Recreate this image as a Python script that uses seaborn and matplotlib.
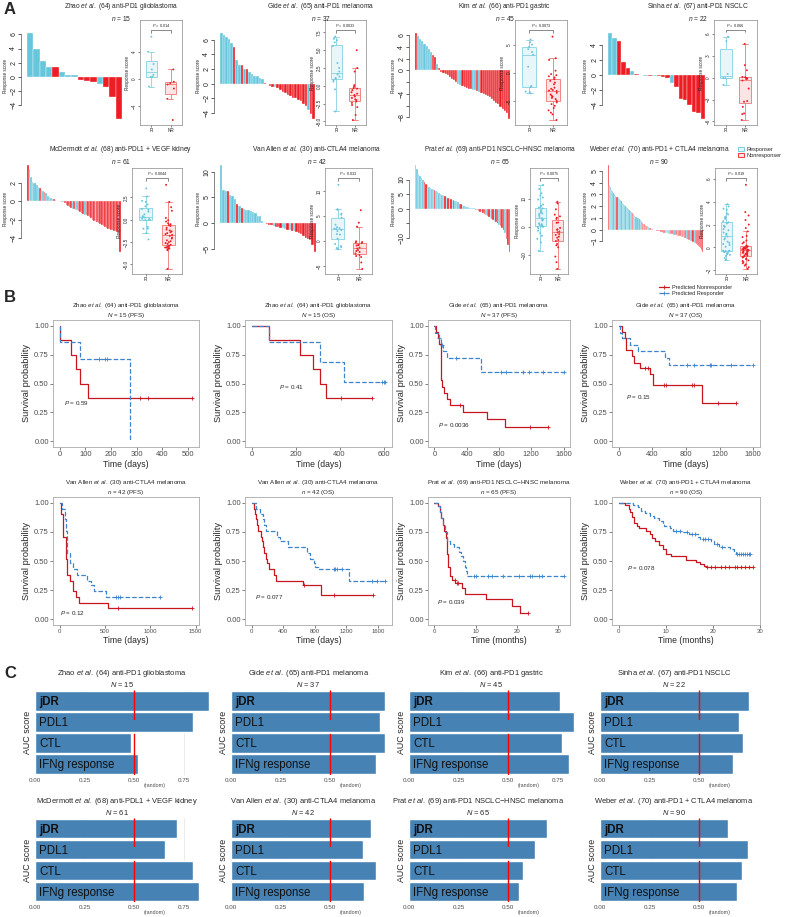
import numpy as np
import pandas as pd
import matplotlib
matplotlib.use("Agg")
import matplotlib.pyplot as plt
import matplotlib.colors as mcolors
from matplotlib.patches import Patch
from matplotlib.lines import Line2D
import seaborn as sns

sns.set_theme(style="white")
plt.rcParams["font.family"] = ["Liberation Sans", "DejaVu Sans"]
plt.rcParams["mathtext.fontset"] = "custom"
plt.rcParams["mathtext.rm"] = "Liberation Sans"
plt.rcParams["mathtext.it"] = "Liberation Sans:italic"
plt.rcParams["mathtext.bf"] = "Liberation Sans:bold"

# ---------------- data ----------------
study = ["Zhao", "Gide", "Kim", "Sinha", "McDermott", "Van Allen", "Prat", "Weber"]
ref = ["64", "65", "66", "67", "68", "30", "69", "70"]
therapy = ["anti-PD1 glioblastoma", "anti-PD1 melanoma", "anti-PD1 gastric", "anti-PD1 NSCLC",
           "anti-PDL1 + VEGF kidney", "anti-CTLA4 melanoma", "anti-PD1 NSCLC\u2212HNSC melanoma",
           "anti-PD1 + CTLA4 melanoma"]

# panel A: response score per patient (sorted) and true response (R / N)
zhao_score = [6.2, 4.0, 2.2, 1.4, 1.4, 0.6, 0.3, 0.3, -0.4, -0.6, -0.8, -1.1, -1.4, -2.9, -6.0]
zhao_resp = "RRRRNRRRNNNRNNN"
gide_score = [6.9, 6.6, 6.4, 6.1, 5.6, 5.0, 3.2, 2.5, 2.5, 2.0,
              2.0, 1.6, 1.3, 1.1, 1.0, 0.8, 0.6, 0.1, -0.1, -0.3,
              -0.4, -0.5, -0.6, -0.9, -1.1, -1.3, -1.5, -1.7, -1.9, -2.0,
              -2.2, -2.4, -2.7, -3.0, -3.6, -4.1, -4.8]
gide_resp = "RRRRRNRRNR" "NRRRRRRNNN" "NRNNNNNNNN" "NNNNRNN"
kim_score = [6.4, 5.9, 5.4, 5.0, 4.6, 4.2, 3.7, 3.2, 2.6, 2.3,
             1.1, 0.4, -0.2, -0.4, -0.6, -0.8, -1.1, -1.4, -1.7, -2.0,
             -2.3, -2.5, -2.6, -2.8, -3.0, -3.1, -3.2, -3.3, -3.4, -3.5,
             -3.6, -3.8, -4.0, -4.2, -4.4, -4.6, -4.9, -5.2, -5.5, -5.8,
             -6.2, -6.6, -7.0, -7.3, -8.3]
kim_resp = "NRRRRRRRNN" "RNNNNNNNNN" "RRNNNNNRRN" "RNNNNNNNNN" "NNNNN"
sinha_score = [5.6, 5.0, 4.6, 1.7, 1.0, 0.5, 0.1, 0.05, -0.05, -0.05,
               -0.1, -0.15, -0.2, -0.4, -1.0, -1.5, -3.2, -3.3, -4.0, -4.9,
               -5.0, -5.8]
sinha_resp = "RRNNNRNNRN" "RNNNRNNNNN" "NN"
mcd_score = [3.9, 3.5, 2.6, 2.1, 2.0, 2.0, 1.7, 1.5, 1.4, 1.2,
             1.1, 1.0, 0.9, 0.6, 0.4, 0.3, 0.25, 0.2, 0.1, 0.05,
             0.02, 0.0, -0.05, -0.05, -0.2, -0.4, -0.5, -0.6, -0.7, -0.8,
             -0.9, -1.0, -1.0, -1.1, -1.2, -1.3, -1.4, -1.5, -1.5, -1.6,
             -1.7, -1.8, -2.0, -2.1, -2.2, -2.3, -2.4, -2.5, -2.6, -2.7,
             -2.8, -2.9, -3.0, -3.0, -3.1, -3.1, -3.2, -3.2, -3.3, -3.4,
             -5.5]
mcd_resp = "NRRRRNRRNR" "RNRRRRRNRR" "RRNRNNNNNR" "NRRNNNNRNN" "NNNNRNNNNN" "NNNNNNNNNN" "N"
va_score = [11.3, 6.4, 6.3, 6.2, 5.5, 5.3, 4.7, 3.7, 3.3, 2.9,
            2.8, 2.6, 2.5, 2.4, 2.2, 2.0, 1.4, 1.3, 0.5, -0.05,
            -0.2, -0.3, -0.4, -0.6, -0.7, -0.8, -0.9, -1.0, -1.2, -1.3,
            -1.4, -1.5, -1.6, -1.8, -2.0, -2.2, -2.5, -2.8, -3.0, -3.2,
            -4.3, -5.6]
va_resp = "RRRNRRRNRN" "RRRRRRRRRN" "NNNRNNNRRN" "RNRNNNNNNN" "NN"
prat_score = [15.0, 13.5, 12.0, 11.2, 10.5, 9.8, 9.0, 8.4, 8.0, 7.6,
              7.2, 6.9, 6.6, 6.3, 6.0, 5.7, 5.4, 5.1, 4.8, 4.6,
              4.4, 4.1, 3.8, 3.5, 3.3, 3.1, 2.9, 2.7, 2.5, 2.3,
              1.6, 1.5, 1.3, 1.0, 0.8, 0.6, 0.5, 0.3, 0.2, 0.1,
              0.05, -0.3, -0.5, -0.8, -1.0, -1.3, -1.6, -1.9, -2.2, -2.5,
              -2.8, -3.1, -3.4, -3.8, -4.2, -4.6, -5.0, -5.5, -6.0, -6.5,
              -7.2, -8.5, -10.5, -12.5, -14.9]
prat_resp = "RRRRRRNNRR" "RRRNRRRRRR" "NRNRNRNRRR" "NNRRRRRRRR" "RNRNNRNNRN" "NRNNRNNRNN" "NRNNN"
weber_score = [5.5, 3.8, 3.6, 3.4, 3.3, 3.1, 3.0, 2.9, 2.8, 2.7,
               2.6, 2.5, 2.4, 2.3, 2.2, 2.1, 2.0, 1.9, 1.85, 1.8,
               1.7, 1.6, 1.5, 1.4, 1.3, 1.2, 1.1, 1.0, 0.95, 0.9,
               0.8, 0.7, 0.6, 0.5, 0.45, 0.4, 0.35, 0.3, 0.2, 0.15,
               0.1, 0.05, 0.02, -0.02, -0.05, -0.08, -0.1, -0.12, -0.15, -0.18,
               -0.2, -0.22, -0.25, -0.27, -0.3, -0.3, -0.32, -0.33, -0.35, -0.36,
               -0.38, -0.4, -0.42, -0.45, -0.47, -0.5, -0.52, -0.55, -0.58, -0.6,
               -0.63, -0.66, -0.7, -0.73, -0.76, -0.8, -0.85, -0.9, -0.95, -1.0,
               -1.05, -1.1, -1.15, -1.2, -1.3, -1.4, -1.5, -1.6, -1.75, -1.9]
weber_resp = ("NRRRRNRRNR" "RRNRRRNRRR" "NRRNRRRNRN" "RRNRNRNRRN" "NRNNNNNNNN"
              "NNNNRRRRRN" "NNRNNRNNNR" "NRNNRNNNRN" "NRNNNNNNNN")

scores = [zhao_score, gide_score, kim_score, sinha_score, mcd_score, va_score, prat_score, weber_score]
resps = [zhao_resp, gide_resp, kim_resp, sinha_resp, mcd_resp, va_resp, prat_resp, weber_resp]
box_p = ["0.014", "0.0033", "0.0073", "0.066", "0.0044", "0.033", "0.0075", "0.019"]
wf_ticks = [[-4, -2, 0, 2, 4, 6], [-4, -2, 0, 2, 4, 6], [-8, -6, -4, -2, 0, 2, 4, 6], [-4, -2, 0, 2, 4],
            [-4, -2, 0, 2], [-5, 0, 5, 10], [-10, -5, 0, 5, 10], [-1, 0, 1, 2, 3, 4, 5]]
wf_labels = [["\u22124", "\u22122", "0", "2", "4", "6"], ["\u22124", "\u22122", "0", "2", "4", "6"],
             ["\u22128", "", "\u22124", "", "0", "2", "4", "6"], ["\u22124", "\u22122", "0", "2", "4"],
             ["\u22124", "\u22122", "0", "2"], ["\u22125", "0", "5", "10"],
             ["\u221210", "", "0", "5", "10"], ["\u22121", "0", "1", "2", "3", "4", "5"]]
bx_ticks = [[-4, 0, 4], [-5.0, -2.5, 0.0, 2.5, 5.0, 7.5], [-5, 0, 5], [-6, -3, 0, 3, 6],
            [-5.0, -2.5, 0.0, 2.5], [-5, 0, 5, 10], [-10, 0, 10], [-2, 0, 2, 4, 6]]

# panel B: Kaplan-Meier steps (time, survival) + censor times
km_title_n = ["N = 15 (PFS)", "N = 15 (OS)", "N = 37 (PFS)", "N = 37 (OS)",
              "n = 42 (PFS)", "n = 42 (OS)", "n = 65 (PFS)", "n = 90 (OS)"]
km_study = [0, 0, 1, 1, 5, 5, 6, 7]
km_p = ["0.59", "0.41", "0.0036", "0.15", "0.12", "0.077", "0.039", "0.078"]
km_p_pos = [(17, 0.33), (125, 0.47), (41, 0.14), (83, 0.38), (5, 0.05), (42, 0.19), (0.5, 0.15), (1.7, 0.44)]
km_unit = ["days", "days", "days", "days", "days", "days", "months", "months"]
km_xticks = [[0, 100, 200, 300, 400, 500], [0, 200, 400, 600], [0, 400, 800, 1200, 1600],
             [0, 400, 800, 1200, 1600], [0, 500, 1000, 1500], [0, 400, 800, 1200, 1600],
             [0, 10, 20, 30], [0, 10, 20, 30]]

nr_t = [[0, 2, 45, 62, 81, 109, 517],
        [0, 78, 219, 281, 309, 340, 546],
        [0, 20, 41, 54, 82, 95, 124, 160, 198, 359, 647, 878, 1402],
        [0, 42, 71, 91, 158, 187, 249, 374, 407, 989, 1392],
        [0, 19, 38, 65, 76, 114, 152, 179, 209, 532, 1464],
        [0, 30, 42, 55, 64, 76, 119, 127, 148, 161, 182, 195, 225, 288, 305, 657, 877, 1538],
        [0, 0.9, 1.3, 1.7, 2.1, 2.4, 2.8, 3.05, 3.4, 3.8, 4.35, 5.1, 6.6, 7.4, 12.4, 18.7, 20.8, 22.7],
        [0, 1.4, 2.1, 2.5, 2.9, 3.3, 3.8, 4.4, 5.7, 6.7, 7.0, 7.8, 8.6, 9.3, 10.1, 11.2, 14.2, 16.5,
         17.3, 18.2, 18.6, 28.5]]
nr_s = [[1, 0.875, 0.75, 0.625, 0.5, 0.375, 0.375],
        [1, 0.875, 0.75, 0.625, 0.5, 0.375, 0.375],
        [1, 0.95, 0.89, 0.84, 0.53, 0.47, 0.42, 0.37, 0.315, 0.25, 0.19, 0.125, 0.125],
        [1, 0.95, 0.89, 0.79, 0.74, 0.68, 0.63, 0.58, 0.49, 0.33, 0.33],
        [1, 0.90, 0.71, 0.52, 0.38, 0.33, 0.24, 0.19, 0.14, 0.095, 0.095],
        [1, 0.95, 0.90, 0.86, 0.81, 0.76, 0.71, 0.67, 0.62, 0.57, 0.52, 0.48, 0.43, 0.38, 0.33, 0.29,
         0.21, 0.21],
        [1, 0.97, 0.92, 0.87, 0.81, 0.76, 0.70, 0.56, 0.45, 0.37, 0.34, 0.31, 0.27, 0.22, 0.17, 0.11,
         0.055, 0.055],
        [1, 0.98, 0.95, 0.92, 0.88, 0.83, 0.80, 0.78, 0.76, 0.73, 0.70, 0.67, 0.64, 0.60, 0.56, 0.54,
         0.51, 0.49, 0.47, 0.46, 0.445, 0.445]]
nr_cens = [[314, 346, 517], [406, 546], [322, 1188, 1402], [312, 353, 540, 561, 873, 894, 1185, 1392],
           [646, 1464], [660, 1038, 1538], [5.0, 5.4, 5.8, 22.7],
           [18.8, 19.5, 20.5, 21.8, 22.5, 23.4, 24.6, 25.2, 26.0, 26.8, 27.6, 28.5]]
r_t = [[0, 2, 81, 273],
       [0, 78, 309, 422, 608],
       [0, 12, 54, 82, 103, 157, 577, 1600],
       [0, 12, 42, 133, 229, 549, 594, 1600],
       [0, 30, 57, 65, 76, 114, 152, 190, 304, 342, 380, 513, 1103],
       [0, 51, 106, 148, 161, 182, 318, 360, 466, 699, 742, 785, 805, 839, 1229, 1695],
       [0, 0.9, 1.3, 1.7, 2.1, 2.6, 3.05, 3.8, 4.7, 5.9, 6.4, 7.0, 7.3, 7.6, 8.0, 31.3],
       [0, 3.0, 4.0, 4.8, 5.5, 6.6, 7.4, 8.6, 9.3, 9.7, 10.8, 11.6, 13.5, 15.0, 16.9, 17.3, 19.5,
        20.3, 21.4, 23.7, 24.5, 24.8, 27.9]]
r_s = [[1, 0.857, 0.714, 0.0],
       [1, 0.857, 0.686, 0.514, 0.514],
       [1, 0.94, 0.89, 0.83, 0.78, 0.72, 0.60, 0.60],
       [1, 0.94, 0.89, 0.83, 0.78, 0.72, 0.66, 0.66],
       [1, 0.95, 0.86, 0.76, 0.57, 0.48, 0.43, 0.38, 0.33, 0.29, 0.24, 0.19, 0.19],
       [1, 0.95, 0.90, 0.86, 0.81, 0.76, 0.71, 0.67, 0.62, 0.57, 0.52, 0.48, 0.45, 0.43, 0.33, 0.33],
       [1, 0.97, 0.92, 0.87, 0.81, 0.75, 0.67, 0.65, 0.62, 0.58, 0.54, 0.50, 0.45, 0.41, 0.37, 0.37],
       [1, 0.98, 0.96, 0.93, 0.91, 0.89, 0.87, 0.84, 0.82, 0.80, 0.78, 0.76, 0.75, 0.73, 0.71, 0.69,
        0.67, 0.65, 0.62, 0.60, 0.58, 0.56, 0.56]]
r_cens = [[154, 177, 186], [594, 600, 608], [60, 90, 272, 825, 887, 1093, 1175, 1340, 1600],
          [810, 894, 1081, 1102, 1330, 1600], [627, 646, 665, 1103],
          [1038, 1055, 1080, 1150, 1530, 1590, 1695],
          [9.5, 10.1, 13.1, 13.9, 16.5, 20.4, 23.1, 23.6, 25.3, 26.1, 31.3],
          [12.2, 13.0, 14.4, 15.6, 16.2, 17.8, 18.3, 19.0, 20.8, 22.0, 25.2, 25.6, 26.0, 26.4, 26.8,
           27.2, 27.6, 27.9]]

# panel C: AUC per signature
methods = ["jDR", "PDL1", "CTL", "IFNg response"]
cohort_n = [15, 37, 45, 22, 61, 42, 65, 90]
auc = [[0.879, 0.80, 0.485, 0.52],
       [0.78, 0.75, 0.78, 0.73],
       [0.761, 0.832, 0.772, 0.806],
       [0.75, 0.70, 0.72, 0.67],
       [0.717, 0.656, 0.796, 0.828],
       [0.707, 0.665, 0.73, 0.67],
       [0.695, 0.635, 0.575, 0.555],
       [0.647, 0.747, 0.716, 0.69]]
auc_ticks = [[0, 0.25, 0.5, 0.75], [0, 0.25, 0.5], [0, 0.25, 0.5, 0.75], [0, 0.25, 0.5],
             [0, 0.25, 0.5, 0.75], [0, 0.25, 0.5], [0, 0.25, 0.5], [0, 0.25, 0.5]]

# ---------------- style ----------------
CYAN = "#66C6DC"
RED = "#EE1D24"
BOX_FILL = {"R": "#E8F6FA", "N": "#FCE4E4"}
BOX_EDGE = {"R": "#86D2E3", "N": "#F07575"}
KM_RED = "#C8161E"
KM_BLUE = "#3C84CC"
BAR_BLUE = "#4682B4"
GREY = "#4D4D4D"

W, H = 785, 917
fig = plt.figure(figsize=(W / 100, H / 100), dpi=100)


def px_axes(x0, y0, x1, y1):
    return fig.add_axes([x0 / W, 1 - y1 / H, (x1 - x0) / W, (y1 - y0) / H])


def title_str(i, nline):
    return (study[i] + r" $\it{et\ al.}$ ($\it{" + ref[i] + "}$) " + therapy[i] + "\n" + nline)


def minus(v):
    return f"{v:g}".replace("-", "\u2212")


# ---------------- panel A ----------------
wf_x = [(27, 122), (220, 315), (415, 510), (608, 705), (27, 121), (220, 316), (415, 510), (608, 703)]
bx_x = [(140, 182), (325, 366), (515, 567), (714, 757), (132, 182), (325, 372), (530, 568), (715, 757)]
a_title_x = [121, 321, 505, 698, 121, 317, 500, 659]

for i in range(8):
    row = i // 4
    vals = scores[i]
    grp = list(resps[i])
    df = pd.DataFrame({"pos": np.arange(len(vals)), "score": vals, "grp": grp})

    wy0, wy1 = (33, 119) if row == 0 else (165, 252)
    ax = px_axes(wf_x[i][0], wy0, wf_x[i][1], wy1)
    sns.barplot(data=df, x="pos", y="score", hue="grp", palette={"R": CYAN, "N": RED},
                dodge=False, width=1.0, native_scale=True, errorbar=None, saturation=1,
                edgecolor="white", linewidth=0.25, legend=False, ax=ax)
    ax.set_xlim(-0.5, len(vals) - 0.5)
    ax.set_ylim(min(vals), max(vals))
    for s in ["top", "right", "bottom"]:
        ax.spines[s].set_visible(False)
    ax.spines["left"].set_position(("outward", 4))
    ax.spines["left"].set_bounds(wf_ticks[i][0], wf_ticks[i][-1])
    ax.spines["left"].set_color("#555555")
    ax.spines["left"].set_linewidth(0.5)
    ax.set_xticks([])
    ax.set_yticks(wf_ticks[i])
    ax.set_yticklabels(wf_labels[i], rotation=90, va="center")
    ax.tick_params(axis="y", left=True, length=2, width=0.5, pad=1, labelsize=5, colors="#222222")
    ax.set_xlabel("")
    ax.set_ylabel("Response score", fontsize=3.3, labelpad=2)
    ax.patch.set_alpha(0)

    by0, by1 = (20, 125) if row == 0 else (168, 274)
    bx = px_axes(bx_x[i][0], by0, bx_x[i][1], by1)
    sns.boxplot(data=df, x="grp", y="score", hue="grp", order=["R", "N"], hue_order=["R", "N"],
                palette=BOX_FILL, width=0.6, linewidth=0.6, showfliers=False, saturation=1,
                legend=False, ax=bx)
    for cont in bx.containers:
        fc = mcolors.to_hex(cont.boxes[0].get_facecolor())
        g = "R" if fc == mcolors.to_hex(BOX_FILL["R"]) else "N"
        for b in cont.boxes:
            b.set_edgecolor(BOX_EDGE[g])
        for ln in list(cont.whiskers) + list(cont.caps) + list(cont.medians):
            ln.set_color(BOX_EDGE[g])
    sns.stripplot(data=df, x="grp", y="score", hue="grp", order=["R", "N"], hue_order=["R", "N"],
                  palette={"R": CYAN, "N": RED}, size=1.4, jitter=0.18, legend=False, ax=bx)
    lo, hi = min(vals), max(vals)
    span = hi - lo
    bx.set_ylim(lo - 0.06 * span, hi + 0.2 * span)
    bx.set_xlim(-0.6, 1.6)
    ybr = hi + 0.08 * span
    bx.plot([0, 0, 1, 1], [ybr - 0.03 * span, ybr, ybr, ybr - 0.03 * span], color="#333333", lw=0.4)
    bx.text(0.5, ybr + 0.01 * span, r"$\it{P}$ = " + box_p[i], ha="center", va="bottom", fontsize=2.8)
    bx.set_yticks(bx_ticks[i])
    bx.set_yticklabels([minus(t) if isinstance(t, int) else f"{t:.1f}".replace("-", "\u2212")
                        for t in bx_ticks[i]], rotation=90, va="center")
    bx.set_xticks([0, 1])
    bx.set_xticklabels(["R", "NR"])
    bx.tick_params(axis="both", length=1.5, width=0.4, pad=1, labelsize=3.3, left=True, bottom=True)
    bx.set_xlabel("")
    bx.set_ylabel("Response score", fontsize=3.3, labelpad=1)
    for s in bx.spines.values():
        s.set_color("#888888")
        s.set_linewidth(0.5)

    ty = 12 if row == 0 else 155
    n_line = r"$\it{n}$ = " + str(len(vals))
    fig.text(a_title_x[i] / W, 1 - ty / H, title_str(i, n_line), ha="center", va="center",
             fontsize=4.8, linespacing=1.3)

fig.legend(handles=[Patch(facecolor=BOX_FILL["R"], edgecolor=CYAN, lw=0.6, label="Responser"),
                    Patch(facecolor=BOX_FILL["N"], edgecolor=RED, lw=0.6, label="Nonresponser")],
           loc="upper right", bbox_to_anchor=(1.0, 1 - 143 / H), frameon=False, fontsize=4,
           handlelength=1.0, handleheight=0.8, labelspacing=0.2, handletextpad=0.4, borderpad=0.2)

# ---------------- panel B ----------------
km_x = [(53, 199), (245, 392), (428, 570), (612, 760)]
for k in range(8):
    row = k // 4
    y0, y1 = (320, 447) if row == 0 else (497, 625)
    ax = px_axes(km_x[k % 4][0], y0, km_x[k % 4][1], y1)
    curves = [(nr_t[k], nr_s[k], nr_cens[k], KM_RED, "-"),
              (r_t[k], r_s[k], r_cens[k], KM_BLUE, "--")]
    for t, s, c, col, ls in curves:
        d = pd.DataFrame({"t": t, "s": s})
        sns.lineplot(data=d, x="t", y="s", drawstyle="steps-post", color=col, linestyle=ls,
                     lw=0.9, estimator=None, sort=False, ax=ax)
        cy = [s[np.searchsorted(t, x, side="right") - 1] for x in c]
        sns.scatterplot(x=c, y=cy, marker="+", color=col, s=10, linewidth=0.6, ax=ax, zorder=3)
    tmax = max(max(nr_t[k]), max(r_t[k]), max(nr_cens[k]), max(r_cens[k]))
    ax.set_xlim(-0.05 * tmax, 1.05 * tmax)
    ax.set_ylim(-0.05, 1.05)
    ax.set_yticks([0, 0.25, 0.5, 0.75, 1.0])
    ax.set_yticklabels(["0.00", "0.25", "0.50", "0.75", "1.00"])
    ax.set_xticks(km_xticks[k])
    ax.tick_params(axis="y", labelsize=5.5, colors=GREY, length=2, width=0.5, pad=1, left=True)
    ax.tick_params(axis="x", labelsize=5.5 if row == 0 else 4.3, colors=GREY, length=2, width=0.5,
                   pad=1, bottom=True)
    ax.set_xlabel("Time (" + km_unit[k] + ")", fontsize=6.2, labelpad=1)
    ax.set_ylabel("Survival probability", fontsize=6.7, labelpad=2)
    for s in ax.spines.values():
        s.set_color("#AAAAAA")
        s.set_linewidth(0.6)
    nl = km_title_n[k]
    n_line = r"$\it{" + nl[0] + "}$" + nl[1:]
    ax.set_title(title_str(km_study[k], n_line), fontsize=4.5, pad=2, linespacing=1.2)
    px, py = km_p_pos[k]
    ax.text(px, py, r"$\it{P}$ = " + km_p[k], fontsize=4.5, va="center", ha="left")

fig.legend(handles=[Line2D([], [], color=KM_RED, lw=0.9, ls="-", marker="+", ms=3, mew=0.6,
                           label="Predicted Nonresponder"),
                    Line2D([], [], color=KM_BLUE, lw=0.9, ls="--", marker="+", ms=3, mew=0.6,
                           label="Predicted Responder")],
           loc="upper left", bbox_to_anchor=(655 / W, 1 - 281 / H), frameon=False, fontsize=4,
           handlelength=1.8, labelspacing=0.25, handletextpad=0.5, borderpad=0.2)

# ---------------- panel C ----------------
c_x0 = [35, 231, 409, 600]
PX_PER_AUC = 198
for k in range(8):
    row = k // 4
    y0, y1 = (690, 775) if row == 0 else (818, 902)
    x0 = c_x0[k % 4]
    xmax = max(auc[k])
    ax = px_axes(x0, y0, x0 + xmax * PX_PER_AUC, y1)
    d = pd.DataFrame({"method": methods, "auc": auc[k]})
    ax.set_axisbelow(True)
    ax.grid(axis="x", color="#EBEBEB", lw=0.7)
    sns.barplot(data=d, x="auc", y="method", orient="h", color=BAR_BLUE, saturation=1, width=0.93,
                errorbar=None, ax=ax)
    ax.axvline(0.5, color="#FF0000", lw=1.0, dashes=(30, 10), zorder=5)
    ax.set_xlim(0, xmax)
    ax.set_ylim(3.5, -0.5)
    for j, m in enumerate(methods):
        ax.text(0.02, j + 0.05, m, va="center", ha="left", fontsize=8.3,
                fontweight="bold" if m == "jDR" else "normal", color="#111111")
    ax.set_yticks([])
    ax.set_xticks(auc_ticks[k])
    ax.set_xticklabels([f"{t:.2f}" for t in auc_ticks[k]])
    ax.tick_params(axis="x", labelsize=4.5, colors=GREY, length=0, pad=2)
    ax.text(0.55, -0.1, "(random)", transform=ax.get_xaxis_transform(), fontsize=3.8, color=GREY,
            ha="left", va="top")
    ax.set_xlabel("")
    ax.set_ylabel("AUC score", fontsize=6.4, labelpad=2)
    for s in ax.spines.values():
        s.set_visible(False)
    n_line = r"$\it{N}$ = " + str(cohort_n[k])
    ax.set_title(title_str(k, n_line), fontsize=5.4, pad=2, linespacing=1.2)

# panel letters
for letter, y in [("A", 10), ("B", 297), ("C", 673)]:
    fig.text(4 / W, 1 - y / H, letter, fontsize=12, fontweight="bold", va="center", ha="left")

fig.savefig("out.png", dpi=100)
